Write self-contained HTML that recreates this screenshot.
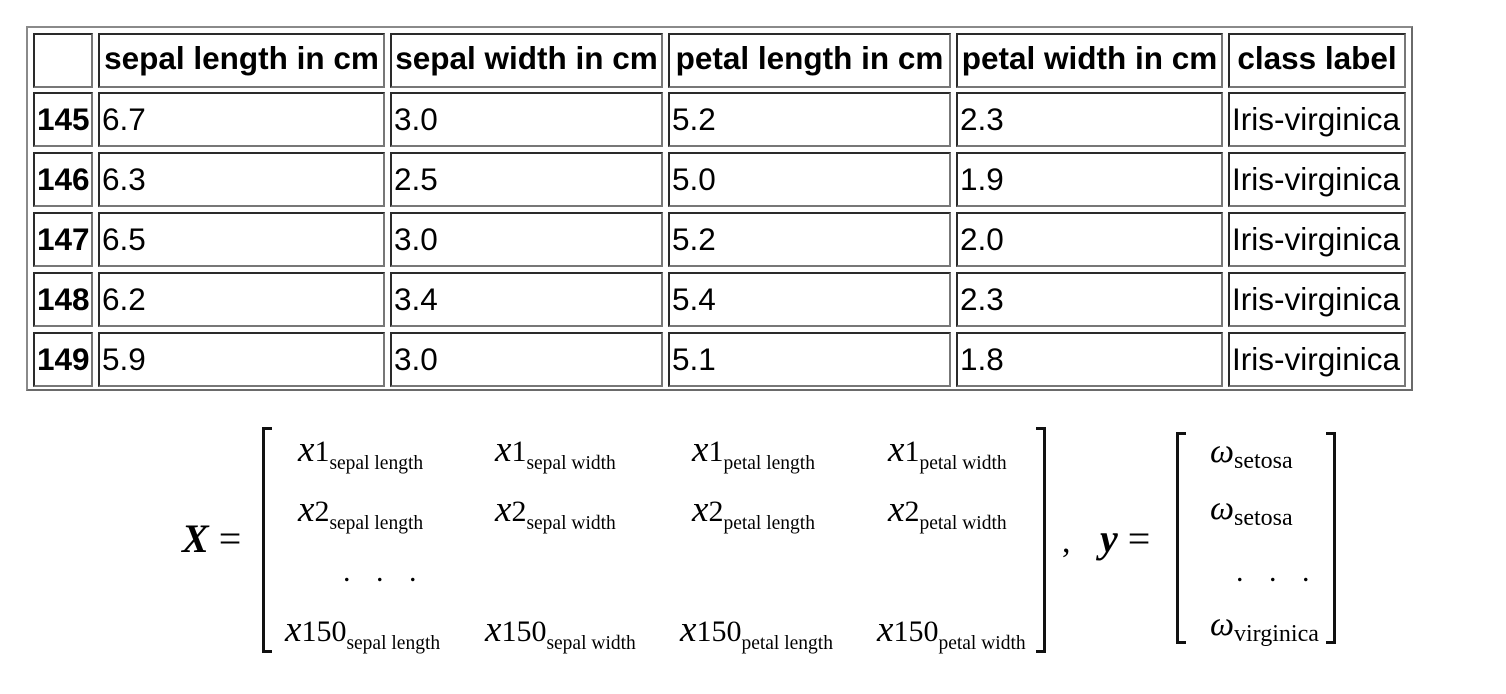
<!DOCTYPE html>
<html><head><meta charset="utf-8"><style>
body{margin:0;width:1506px;height:694px;background:#fff;position:relative;overflow:hidden;font-family:"Liberation Sans",sans-serif;}
.tbl{position:absolute;left:26px;top:26px;width:1383px;height:361px;border:2px solid #8a8a8a;border-right-color:#6a6a6a;border-bottom-color:#6a6a6a;}
.c{position:absolute;box-sizing:border-box;border:2px solid #2a2a2a;border-right-color:#777;border-bottom-color:#777;height:55px;font-size:31.5px;line-height:51px;padding-left:2px;white-space:nowrap;color:#000;overflow:visible;}
.h{font-weight:bold;text-align:center;padding-left:0;line-height:46px;}
.b{font-weight:bold;}
.m{position:absolute;font-family:"Liberation Serif",serif;white-space:nowrap;color:#000;}
.x{font-style:italic;font-size:37px;}
.n{font-size:30px;}
.s{font-size:19.5px;position:relative;top:8px;}
.br{position:absolute;border:3px solid #111;}
</style></head><body>
<div class="tbl"></div>
<div id="cells"></div>
<div id="math"></div>
<script>
const lefts=[33,98,390,668,956,1228];
const rights=[93,385,663,951,1223,1406];
const tops=[33,92,152,212,272,332];
const headers=["","sepal length in cm","sepal width in cm","petal length in cm","petal width in cm","class label"];
const rows=[["145","6.7","3.0","5.2","2.3","Iris-virginica"],["146","6.3","2.5","5.0","1.9","Iris-virginica"],["147","6.5","3.0","5.2","2.0","Iris-virginica"],["148","6.2","3.4","5.4","2.3","Iris-virginica"],["149","5.9","3.0","5.1","1.8","Iris-virginica"]];
const cont=document.getElementById('cells');
function cell(txt,ci,ri,cls,name){const d=document.createElement('div');d.className='c '+cls;d.style.left=lefts[ci]+'px';d.style.width=(rights[ci]-lefts[ci])+'px';d.style.top=tops[ri]+'px';d.textContent=txt;


cont.appendChild(d);}
headers.forEach((h,i)=>cell(h,i,0,'h','header-cell'));
rows.forEach((r,ri)=>r.forEach((v,ci)=>cell(v,ci,ri+1,ci==0?'b':'',ci==0?'row-index':'data-cell')));
const M=document.getElementById('math');
function m(html,x,y,name){const d=document.createElement('div');d.className='m';d.style.left=x+'px';d.style.top=y+'px';d.innerHTML=html;


M.appendChild(d);}
const feats=["sepal length","sepal width","petal length","petal width"];
const colX=[298,495,692,888];
const colX150=[285,485,680,877];
const rowY=[428,488];
[1,2].forEach((k,ri)=>feats.forEach((f,ci)=>m('<span class="x">x</span><span class="n">'+k+'</span><span class="s">'+f+'</span>',colX[ci],rowY[ri],'matrix-entry')));
feats.forEach((f,ci)=>m('<span class="x">x</span><span class="n">150</span><span class="s">'+f+'</span>',colX150[ci],608,'matrix-entry'));
m('<span style="font-size:30px;letter-spacing:9px">. . .</span>',343,555,'ellipsis');
m('<span style="font-size:30px;letter-spacing:9px">. . .</span>',1236,555,'ellipsis');
m('<b style="font-style:italic;font-size:40px">X</b><span style="font-size:40px"> =</span>',182,515,'x-label');
m('<span style="font-size:34px">,</span>',1062,523,'comma');
m('<b style="font-style:italic;font-size:40px">y</b><span style="font-size:40px"> =</span>',1100,515,'y-label');
const om=["setosa","setosa","virginica"];
const omY=[433,490,606];
om.forEach((o,i)=>m('<span class="x" style="font-size:34px">ω</span><span class="s" style="font-size:24px;top:6px">'+o+'</span>',1210,omY[i],'y-entry'));
function br(x,y,h,side,name){const d=document.createElement('div');d.className='br';d.style.left=x+'px';d.style.top=y+'px';d.style.height=h+'px';d.style.width='7px';if(side=='l')d.style.borderRight='none';else d.style.borderLeft='none';


M.appendChild(d);}
br(262,427,220,'l','left-bracket-x');
br(1036,427,220,'r','right-bracket-x');
br(1176,432,206,'l','left-bracket-y');
br(1326,432,206,'r','right-bracket-y');
</script>
</body></html>
